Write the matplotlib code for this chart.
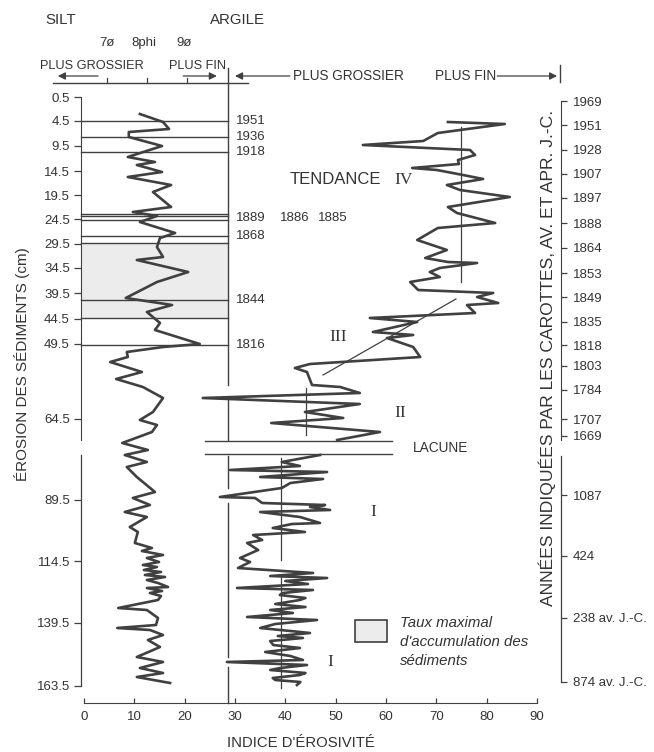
import numpy as np
import matplotlib
matplotlib.use("Agg")
import matplotlib.pyplot as plt
from matplotlib.patches import Rectangle

plt.rcParams["font.family"] = ["Liberation Sans", "DejaVu Sans"]

INK = "#404040"
TXT = "#333333"
SERIF = ["Liberation Serif", "DejaVu Serif"]

# Vertical coordinate: position down the core (row of the drawing, 0 = top)
depth_ticks = ["0.5", "4.5", "9.5", "14.5", "19.5", "24.5", "29.5", "34.5", "39.5",
               "44.5", "49.5", "64.5", "89.5", "114.5", "139.5", "163.5"]
depth_rows = [97, 120.5, 146, 171, 195, 219, 243.5, 268, 293, 318.5, 343.5,
              418.5, 500, 561, 622.5, 686]

year_ticks = ["1969", "1951", "1928", "1907", "1897", "1888", "1864", "1853", "1849",
              "1835", "1818", "1803", "1784", "1707", "1669", "1087", "424",
              "238 av. J.-C.", "874 av. J.-C."]
year_rows = [101, 125, 150, 174, 198, 223, 248, 273, 297, 322, 345, 366, 390, 419,
             436, 495, 556, 618, 682]

# dated layers in the silt/clay column
layer_rows = [120.7, 136.7, 151.7, 214.3, 216.2, 220, 236, 243.3, 299.5, 318.3, 345]
layer_labels = {"1951": 121, "1936": 137, "1918": 152, "1889": 218, "1868": 236,
                "1844": 300, "1816": 345}

# grain size curve (left column)
grain_rows = [114, 122, 129, 132, 137, 146, 157, 162, 165, 172, 177, 185, 192, 207, 212,
              216, 222, 233, 238, 247, 257, 260, 272, 282, 298, 305, 312, 323, 330, 344,
              347, 352, 357, 362, 372, 379, 387, 398, 412, 420, 425, 432, 443, 450, 455,
              462, 467, 477, 492, 498, 505, 512, 517, 527, 532, 543, 548, 551, 555, 558,
              562, 565, 567, 570, 572, 575, 577, 580, 583, 587, 588, 591, 593, 596, 600,
              608, 610, 618, 625, 628, 630, 635, 640, 647, 657, 662, 668, 673, 677, 683]
grain_vals = [11.1, 15.7, 16.9, 8.9, 8.9, 15.5, 8.7, 14.1, 10.5, 15.5, 8.7, 17.3, 13.7, 17.3, 9.7,
              14.5, 11.1, 18.1, 15.1, 14.5, 15.7, 10.5, 20.7, 14.5, 8.3, 17.5, 12.5, 15.1, 14.1, 23.0,
              15.7, 8.5, 8.7, 5.2, 11.5, 6.4, 11.7, 15.7, 13.7, 11.1, 14.5, 13.5, 7.6, 12.7, 8.1,
              12.5, 8.5, 10.5, 14.1, 9.7, 13.1, 8.1, 12.5, 9.1, 10.7, 10.1, 13.5, 11.5, 15.7, 12.5,
              14.9, 11.7, 14.5, 11.9, 15.3, 12.1, 16.1, 12.5, 14.7, 16.7, 12.5, 15.5, 13.1, 15.3, 14.7,
              6.8, 12.5, 14.7, 14.3, 6.6, 13.1, 15.7, 12.7, 15.1, 10.5, 15.7, 11.1, 15.7, 10.5, 17.1]

# erosivity index, trends IV to II (above the gap)
upper_rows = [122, 124, 133, 141, 145, 150, 155, 160, 164, 168, 170, 175, 179, 185, 190,
              197, 207, 213, 223, 228, 240, 250, 258, 262, 263, 268, 272, 277, 282, 290,
              293, 297, 303, 305, 313, 318, 322, 332, 335, 338, 347, 357, 364, 368, 372,
              385, 387, 393, 398, 404, 412, 418, 423, 432, 440]
upper_vals = [72.3, 83.6, 70.3, 67.4, 55.4, 76.7, 77.7, 74.3, 74.5, 65.2, 70.1, 75.3, 79.3, 72.1, 74.7,
              84.6, 72.3, 74.1, 81.7, 70.3, 66.2, 72.1, 67.8, 72.3, 78.1, 70.7, 68.7, 70.7, 64.8, 66.4,
              81.3, 78.1, 82.3, 76.1, 77.7, 56.8, 66.2, 57.4, 65.4, 60.2, 65.4, 66.8, 44.9, 41.9, 44.3,
              45.3, 50.9, 54.8, 23.6, 54.8, 43.9, 51.5, 37.2, 58.8, 50.3]

# erosivity index, trend I (below the gap)
lower_rows = [455, 462, 466, 470, 472, 477, 479, 483, 488, 497, 498, 503, 505, 507, 510,
              512, 517, 523, 524, 528, 532, 535, 540, 543, 550, 558, 562, 568, 573, 576,
              578, 581, 584, 588, 590, 593, 595, 598, 600, 604, 607, 610, 613, 617, 620,
              624, 628, 631, 633, 636, 638, 641, 645, 648, 652, 656, 660, 662, 665, 668,
              670, 673, 675, 678, 680, 682, 685]
lower_vals = [46.9, 39.3, 42.9, 29.0, 48.3, 35.0, 47.5, 41.0, 39.3, 27.0, 34.0, 35.4, 47.9, 44.9, 48.9,
              35.0, 42.9, 46.9, 41.3, 37.5, 43.9, 33.6, 35.4, 32.4, 34.6, 31.0, 33.0, 30.6, 45.5, 37.0,
              48.3, 40.0, 44.5, 30.4, 45.5, 39.5, 38.9, 44.0, 42.9, 38.0, 44.0, 37.0, 41.5, 32.4, 46.3,
              38.0, 35.0, 41.0, 44.9, 38.5, 43.5, 37.0, 37.6, 42.9, 36.0, 41.0, 43.5, 28.4, 44.3, 39.0,
              37.0, 44.0, 42.9, 37.5, 38.0, 43.0, 42.3]

fig = plt.figure(figsize=(6.54, 7.52), dpi=100)
ax = fig.add_axes([0, 0, 1, 1])
ax.set_xlim(-16.69, 113.25)
ax.set_ylim(752, 0)
ax.patch.set_visible(False)

X_LEFT, X_DIV, X_RIGHT = -0.6, 28.6, 94.8

# shaded zone: maximum sediment accumulation rate
ax.add_patch(Rectangle((X_LEFT, 243.5), X_DIV - X_LEFT, 75, facecolor="#ececec",
                       edgecolor="none", zorder=0))

for r in layer_rows:
    ax.plot([X_LEFT, X_DIV], [r, r], color=INK, lw=1.0, zorder=1)
for lab, r in layer_labels.items():
    ax.text(30.2, r, lab, fontsize=9.5, color=TXT, va="center", ha="left")
ax.text(38.9, 218, "1886", fontsize=9.5, color=TXT, va="center", ha="left")
ax.text(46.5, 218, "1885", fontsize=9.5, color=TXT, va="center", ha="left")

# column divider (interrupted where the curve crosses it)
for a, b in [(68, 385), (398, 440), (456, 488), (503, 657), (667, 703)]:
    ax.plot([X_DIV, X_DIV], [a, b], color=INK, lw=1.0, zorder=1)

# curves
ax.plot(grain_vals, grain_rows, color=INK, lw=1.9, zorder=3)
ax.plot(upper_vals, upper_rows, color=INK, lw=1.9, zorder=3)
ax.plot(lower_vals, lower_rows, color=INK, lw=1.9, zorder=3)

# trend lines
ax.plot([74.9, 74.9], [127, 282], color=INK, lw=0.9, zorder=2)
ax.plot([47.5, 73.9], [375, 299], color=INK, lw=0.9, zorder=2)
ax.plot([44.1, 44.1], [388, 435], color=INK, lw=0.9, zorder=2)
ax.plot([39.1, 39.1], [458, 560], color=INK, lw=0.9, zorder=2)
ax.plot([39.1, 39.1], [575, 688], color=INK, lw=0.9, zorder=2)

# gap (lacune)
for r in [441, 454]:
    ax.plot([24.0, 61.2], [r, r], color=INK, lw=1.0, zorder=2)
ax.text(65.4, 448, "LACUNE", fontsize=9.8, color=TXT, va="center", ha="left")

# trend labels
ax.text(40.9, 180, "TENDANCE", fontsize=12, color=TXT, va="center", ha="left")
ax.text(61.6, 180, "IV", fontsize=12.5, color=TXT, va="center", ha="left", family=SERIF)
ax.text(50.5, 337, "III", fontsize=12.5, color=TXT, va="center", ha="center", family=SERIF)
ax.text(62.8, 413, "II", fontsize=12.5, color=TXT, va="center", ha="center", family=SERIF)
ax.text(57.4, 512, "I", fontsize=12.5, color=TXT, va="center", ha="center", family=SERIF)
ax.text(48.9, 662, "I", fontsize=12.5, color=TXT, va="center", ha="center", family=SERIF)

# legend box
ax.add_patch(Rectangle((53.8, 620), 6.4, 22, facecolor="#ececec", edgecolor=INK, lw=1.2))
for t, r in [("Taux maximal", 623), ("d'accumulation des", 642), ("sédiments", 661)]:
    ax.text(62.8, r, t, fontsize=10.8, style="italic", color=TXT, va="center", ha="left")

# header, left column
ax.text(-7.75, 20, "SILT", fontsize=10.8, color=TXT, va="center", ha="left")
ax.text(25.0, 20, "ARGILE", fontsize=10.8, color=TXT, va="center", ha="left")
for t, xv in [("7ø", 4.6), ("8phi", 11.9), ("9ø", 19.9)]:
    ax.text(xv, 43, t, fontsize=9.5, color=TXT, va="center", ha="center")
ax.text(-8.7, 66, "PLUS GROSSIER", fontsize=9.2, color=TXT, va="center", ha="left")
ax.text(28.2, 66, "PLUS FIN", fontsize=9.2, color=TXT, va="center", ha="right")
ax.plot([-6.2, 32.6], [83, 83], color=INK, lw=1.0)
for xv in [4.6, 12.5, 20.5]:
    ax.plot([xv, xv], [83, 78], color=INK, lw=0.9)
arrow = dict(arrowstyle="-|>", color=INK, lw=0.9, mutation_scale=11, shrinkA=0, shrinkB=0)
ax.annotate("", xy=(-5.2, 76), xytext=(2.8, 76), arrowprops=arrow)
ax.annotate("", xy=(26.4, 76), xytext=(19.7, 76), arrowprops=arrow)

# header, right column
ax.annotate("", xy=(30.0, 76), xytext=(40.9, 76), arrowprops=arrow)
ax.text(41.5, 76, "PLUS GROSSIER", fontsize=9.8, color=TXT, va="center", ha="left")
ax.text(69.7, 76, "PLUS FIN", fontsize=9.8, color=TXT, va="center", ha="left")
ax.annotate("", xy=(94.0, 76), xytext=(82.1, 76), arrowprops=arrow)
ax.plot([94.6, 94.6], [65, 82], color=INK, lw=1.0)

# bottom axis: erosivity index
for s in ["top", "right"]:
    ax.spines[s].set_visible(False)
ax.spines["bottom"].set_position(("data", 703))
ax.spines["bottom"].set_bounds(0, 90)
ax.spines["bottom"].set_color(INK)
ax.set_xticks(np.arange(0, 91, 10))
ax.tick_params(axis="x", direction="in", length=3.5, width=0.9, color=INK,
               labelsize=9.5, labelcolor=TXT, pad=6)
ax.text(43.1, 743, "INDICE D'ÉROSIVITÉ", fontsize=10.7, color=TXT, va="center", ha="center")

# left axis: sediment depth
ax.spines["left"].set_position(("data", X_LEFT))
ax.spines["left"].set_bounds(97, 440)
ax.spines["left"].set_color(INK)
ax.set_yticks(depth_rows, depth_ticks)
ax.tick_params(axis="y", direction="out", length=5, width=0.9, color=INK,
               labelsize=9.5, labelcolor=TXT, pad=3)
ax.plot([X_LEFT, X_LEFT], [455, 686], color=INK, lw=0.9)
ax.text(-12.3, 364, "ÉROSION DES SÉDIMENTS (cm)", fontsize=11, color=TXT,
        rotation=90, va="center", ha="center")

# right axis: dates from the cores
ax2 = ax.twinx()
ax2.set_ylim(752, 0)
ax2.patch.set_visible(False)
for s in ["top", "left", "bottom"]:
    ax2.spines[s].set_visible(False)
ax2.spines["right"].set_position(("data", X_RIGHT))
ax2.spines["right"].set_bounds(101, 440)
ax2.spines["right"].set_color(INK)
ax2.set_yticks(year_rows, year_ticks)
ax2.tick_params(axis="y", direction="out", length=4.3, width=0.9, color=INK,
                labelsize=9.5, labelcolor=TXT, pad=4)
ax.plot([X_RIGHT, X_RIGHT], [456, 682], color=INK, lw=0.9)
ax.text(92.0, 358, "ANNÉES INDIQUÉES PAR LES CAROTTES, AV. ET APR. J.-C.", fontsize=12.6,
        color=TXT, rotation=90, va="center", ha="center")

fig.savefig("out.png", dpi=100)
